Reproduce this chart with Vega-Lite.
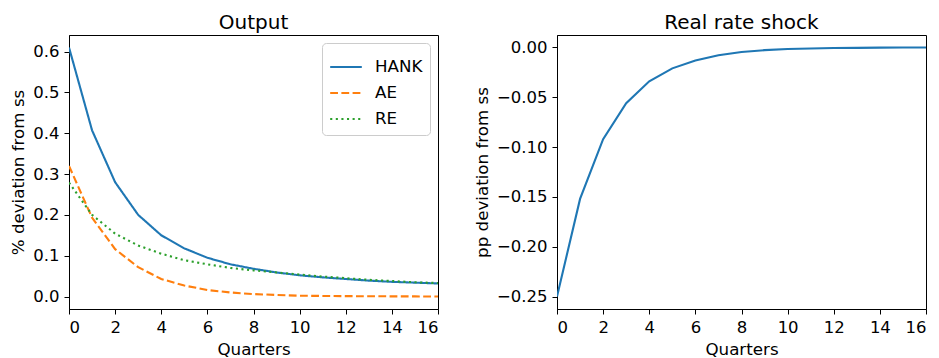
{
  "$schema": "https://vega.github.io/schema/vega-lite/v6.json",
  "padding": {"left": 10, "top": 12, "right": 5, "bottom": 3},
  "config": {
    "font": "DejaVu Sans",
    "view": {"stroke": "black", "strokeWidth": 1},
    "title": {"fontSize": 20, "fontWeight": "normal", "color": "black", "offset": 2},
    "axis": {
      "grid": false,
      "domainColor": "black",
      "tickColor": "black",
      "tickSize": 5,
      "labelPadding": 5,
      "labelFontSize": 16.5,
      "labelColor": "black",
      "titleFontSize": 16.7,
      "titleFontWeight": "normal",
      "titleColor": "black",
      "titlePadding": 5
    },
    "axisX": {"titlePadding": 6},
    "legend": {
      "fillColor": "white",
      "strokeColor": "#cccccc",
      "cornerRadius": 4,
      "padding": 7,
      "labelFontSize": 16.7,
      "labelColor": "black",
      "symbolType": "stroke",
      "symbolStrokeWidth": 2.1,
      "symbolSize": 1000,
      "rowPadding": 0,
      "labelOffset": 12
    }
  },
  "spacing": 34,
  "datasets": {
    "output": [
      {"q": 0, "series": "HANK", "value": 0.610},
      {"q": 1, "series": "HANK", "value": 0.407},
      {"q": 2, "series": "HANK", "value": 0.280},
      {"q": 3, "series": "HANK", "value": 0.200},
      {"q": 4, "series": "HANK", "value": 0.150},
      {"q": 5, "series": "HANK", "value": 0.118},
      {"q": 6, "series": "HANK", "value": 0.095},
      {"q": 7, "series": "HANK", "value": 0.079},
      {"q": 8, "series": "HANK", "value": 0.068},
      {"q": 9, "series": "HANK", "value": 0.059},
      {"q": 10, "series": "HANK", "value": 0.052},
      {"q": 11, "series": "HANK", "value": 0.047},
      {"q": 12, "series": "HANK", "value": 0.043},
      {"q": 13, "series": "HANK", "value": 0.039},
      {"q": 14, "series": "HANK", "value": 0.036},
      {"q": 15, "series": "HANK", "value": 0.034},
      {"q": 16, "series": "HANK", "value": 0.032},
      {"q": 0, "series": "AE", "value": 0.320},
      {"q": 1, "series": "AE", "value": 0.193},
      {"q": 2, "series": "AE", "value": 0.116},
      {"q": 3, "series": "AE", "value": 0.072},
      {"q": 4, "series": "AE", "value": 0.043},
      {"q": 5, "series": "AE", "value": 0.027},
      {"q": 6, "series": "AE", "value": 0.016},
      {"q": 7, "series": "AE", "value": 0.010},
      {"q": 8, "series": "AE", "value": 0.006},
      {"q": 9, "series": "AE", "value": 0.004},
      {"q": 10, "series": "AE", "value": 0.002},
      {"q": 11, "series": "AE", "value": 0.0015},
      {"q": 12, "series": "AE", "value": 0.001},
      {"q": 13, "series": "AE", "value": 0.0007},
      {"q": 14, "series": "AE", "value": 0.0005},
      {"q": 15, "series": "AE", "value": 0.0003},
      {"q": 16, "series": "AE", "value": 0.0002},
      {"q": 0, "series": "RE", "value": 0.279},
      {"q": 1, "series": "RE", "value": 0.200},
      {"q": 2, "series": "RE", "value": 0.154},
      {"q": 3, "series": "RE", "value": 0.125},
      {"q": 4, "series": "RE", "value": 0.105},
      {"q": 5, "series": "RE", "value": 0.089},
      {"q": 6, "series": "RE", "value": 0.079},
      {"q": 7, "series": "RE", "value": 0.070},
      {"q": 8, "series": "RE", "value": 0.064},
      {"q": 9, "series": "RE", "value": 0.059},
      {"q": 10, "series": "RE", "value": 0.054},
      {"q": 11, "series": "RE", "value": 0.049},
      {"q": 12, "series": "RE", "value": 0.045},
      {"q": 13, "series": "RE", "value": 0.041},
      {"q": 14, "series": "RE", "value": 0.038},
      {"q": 15, "series": "RE", "value": 0.035},
      {"q": 16, "series": "RE", "value": 0.033}
    ],
    "rate": [
      {"q": 0, "value": -0.250},
      {"q": 1, "value": -0.152},
      {"q": 2, "value": -0.092},
      {"q": 3, "value": -0.056},
      {"q": 4, "value": -0.034},
      {"q": 5, "value": -0.021},
      {"q": 6, "value": -0.013},
      {"q": 7, "value": -0.0078},
      {"q": 8, "value": -0.0045},
      {"q": 9, "value": -0.0027},
      {"q": 10, "value": -0.0016},
      {"q": 11, "value": -0.001},
      {"q": 12, "value": -0.0006},
      {"q": 13, "value": -0.0004},
      {"q": 14, "value": -0.0002},
      {"q": 15, "value": -0.0001},
      {"q": 16, "value": -0.00007}
    ]
  },
  "hconcat": [
    {
      "title": "Output",
      "width": 369,
      "height": 274,
      "data": {"name": "output"},
      "mark": {"type": "line", "strokeWidth": 2.1, "clip": true},
      "encoding": {
        "x": {
          "field": "q", "type": "quantitative", "title": "Quarters",
          "scale": {"domain": [0, 16], "nice": false, "zero": false},
          "axis": {"values": [0, 2, 4, 6, 8, 10, 12, 14, 16], "format": "d"}
        },
        "y": {
          "field": "value", "type": "quantitative", "title": "% deviation from ss",
          "scale": {"domain": [-0.0305, 0.6405], "nice": false, "zero": false},
          "axis": {"values": [0, 0.1, 0.2, 0.3, 0.4, 0.5, 0.6], "format": ".1f"}
        },
        "color": {
          "field": "series", "type": "nominal",
          "scale": {"domain": ["HANK", "AE", "RE"], "range": ["#1f77b4", "#ff7f0e", "#2ca02c"]},
          "legend": {"title": null, "orient": "top-right", "offset": 8}
        },
        "strokeDash": {
          "field": "series", "type": "nominal",
          "scale": {"domain": ["HANK", "AE", "RE"], "range": [[1, 0], [7.8, 3.4], [2.1, 3.5]]},
          "legend": {"title": null, "orient": "top-right", "offset": 8}
        }
      }
    },
    {
      "title": "Real rate shock",
      "width": 369,
      "height": 274,
      "data": {"name": "rate"},
      "mark": {"type": "line", "strokeWidth": 2.1, "color": "#1f77b4", "clip": true},
      "encoding": {
        "x": {
          "field": "q", "type": "quantitative", "title": "Quarters",
          "scale": {"domain": [0, 16], "nice": false, "zero": false},
          "axis": {"values": [0, 2, 4, 6, 8, 10, 12, 14, 16], "format": "d"}
        },
        "y": {
          "field": "value", "type": "quantitative", "title": "pp deviation from ss",
          "scale": {"domain": [-0.2625, 0.0125], "nice": false, "zero": false},
          "axis": {"values": [-0.25, -0.2, -0.15, -0.1, -0.05, 0], "format": ".2f"}
        }
      }
    }
  ],
  "resolve": {"scale": {"color": "independent", "strokeDash": "independent"}}
}
